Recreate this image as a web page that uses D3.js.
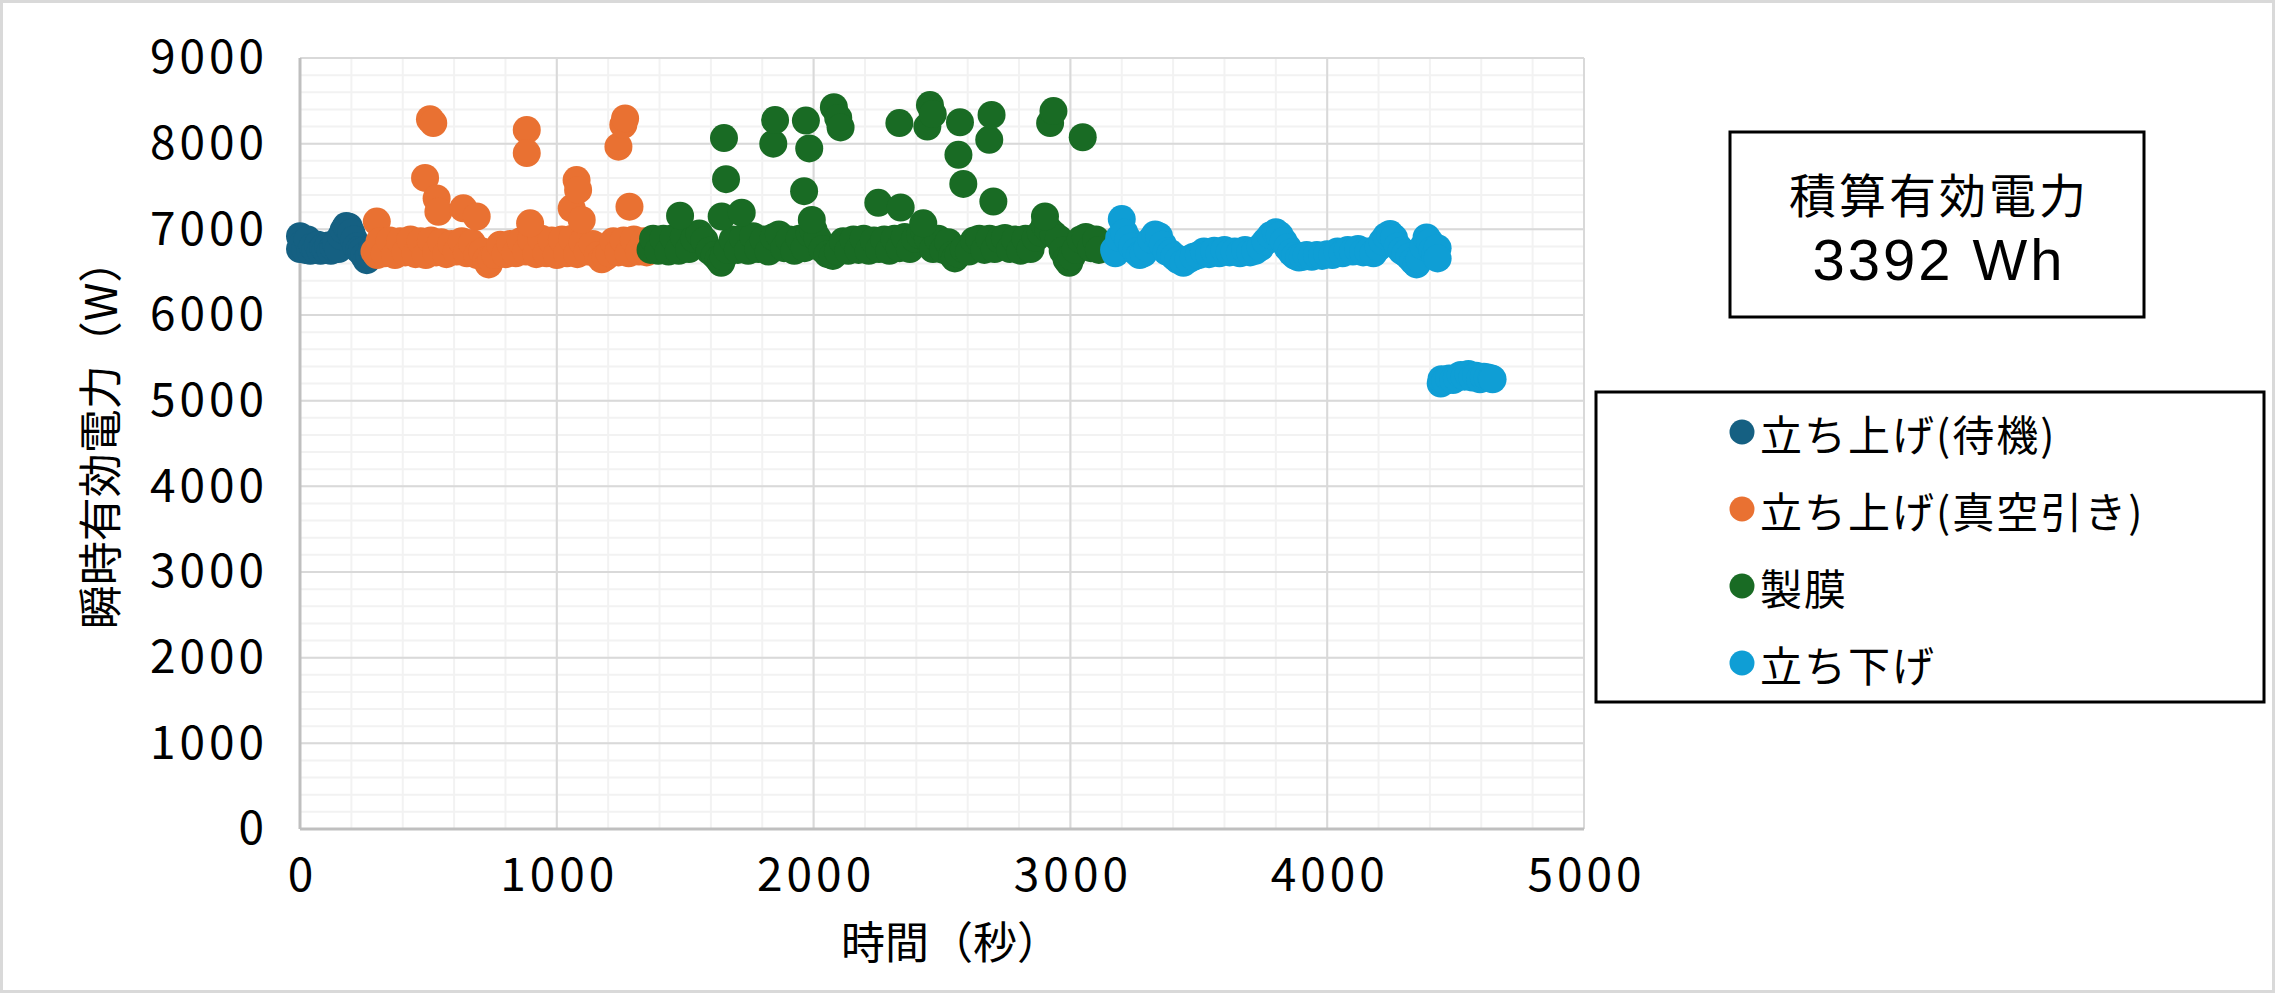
<!DOCTYPE html>
<html>
<head>
<meta charset="utf-8">
<script src="https://cdn.jsdelivr.net/npm/d3@7"></script>
<style>
  html, body { margin: 0; padding: 0; background: #fff; }
  svg text { font-family: "Noto Sans CJK JP", "Noto Sans", sans-serif; fill: #000; }
</style>
</head>
<body>
<div id="chart"></div>
<script>
// Series data: [time (s), instantaneous active power (W)]
var standby = [
  [0,6920],[0,6770],[10,6830],[20,6760],[30,6880],[40,6750],[50,6800],[60,6760],[70,6820],[80,6750],
  [90,6790],[100,6760],[110,6810],[120,6750],[130,6790],[140,6840],[150,6770],[160,6920],[170,6990],
  [180,7040],[190,7030],[200,6960],[210,6880],[220,6800],[230,6760],[240,6740],[250,6690],[260,6640],
  [270,6700],[280,6760]
];

var vacuum = [
  [290,6740],[299,7090],[300,6700],[310,6860],[330,6720],[350,6870],[370,6700],[390,6860],[410,6730],
  [430,6880],[450,6710],[470,6860],[490,6700],[510,6870],[530,6730],[550,6850],[570,6710],[590,6830],
  [610,6740],[630,6860],[650,6720],[670,6840],[690,6700],[710,6740],[725,6640],[735,6590],[745,6650],
  [760,6700],[780,6820],[800,6710],[820,6830],[840,6720],[860,6860],[880,6740],[900,6880],[920,6710],
  [940,6890],[960,6720],[980,6870],[1000,6700],[1020,6880],[1040,6720],[1060,6890],[1080,6710],
  [1100,6850],[1120,6740],[1140,6830],[1160,6700],[1175,6650],[1190,6680],[1205,6720],[1220,6860],
  [1240,6730],[1260,6870],[1280,6720],[1300,6880],[1320,6740],[1340,6860],[1350,6730],
  [487,7600],[506,8285],[519,8240],[532,7360],[539,7205],[636,7245],[688,7150],[883,8160],[883,7890],
  [896,7070],[1058,7245],[1077,7575],[1083,7460],[1097,7110],[1240,7965],[1259,8220],[1266,8295],[1283,7265]
];

var deposition = [
  [1365,6760],[1375,6890],[1395,6750],[1415,6890],[1435,6740],[1455,6900],[1475,6750],[1495,6910],
  [1515,6770],[1535,6890],[1555,6950],[1575,6870],[1595,6750],[1615,6700],[1630,6650],[1640,6610],
  [1650,6680],[1665,6760],[1685,6880],[1705,6760],[1725,6900],[1745,6750],[1765,6920],[1785,6770],
  [1805,6880],[1825,6740],[1845,6910],[1865,6940],[1885,6780],[1905,6880],[1925,6750],[1945,6890],
  [1965,6780],[1985,6950],[2000,6990],[2015,6900],[2035,6770],[2055,6710],[2075,6690],[2095,6740],
  [2115,6860],[2135,6750],[2155,6880],[2175,6760],[2195,6890],[2215,6750],[2235,6870],[2255,6770],
  [2275,6880],[2295,6750],[2315,6890],[2335,6780],[2355,6910],[2375,6770],[2395,6890],[2415,6930],
  [2430,6990],[2445,6900],[2465,6770],[2485,6890],[2505,6760],[2525,6850],[2540,6700],[2550,6660],
  [2565,6710],[2585,6770],[2605,6740],[2625,6870],[2645,6890],[2665,6760],[2685,6890],[2705,6770],
  [2725,6880],[2745,6900],[2765,6770],[2785,6880],[2805,6750],[2825,6890],[2845,6770],[2865,6900],
  [2885,6960],[2900,7050],[2915,7000],[2935,6940],[2955,6890],[2970,6750],[2985,6650],[2995,6610],
  [3005,6680],[3020,6760],[3040,6880],[3060,6910],[3080,6780],[3100,6880],[3111,6760],
  [1480,7160],[1642,7150],[1651,8065],[1659,7585],[1720,7195],[1843,8000],[1850,8275],[1963,7445],
  [1970,8270],[1983,7945],[1993,7110],[2079,8425],[2096,8300],[2105,8190],[2252,7310],[2334,8240],
  [2339,7255],[2427,7070],[2443,8200],[2453,8450],[2464,8345],[2564,7870],[2570,8250],[2583,7530],
  [2684,8045],[2693,8335],[2700,7325],[2901,7150],[2921,8240],[2934,8380],[3048,8075]
];

var rampDown = [
  [3170,6760],[3175,6720],[3190,6900],[3200,7120],[3210,6960],[3225,6880],[3240,6800],[3255,6740],
  [3270,6700],[3285,6720],[3300,6780],[3315,6880],[3330,6940],[3345,6920],[3360,6820],[3375,6740],
  [3390,6720],[3405,6680],[3420,6640],[3440,6610],[3460,6650],[3480,6680],[3500,6700],[3520,6740],
  [3540,6710],[3560,6750],[3580,6720],[3600,6760],[3620,6730],[3640,6740],[3660,6720],[3680,6760],
  [3700,6730],[3720,6750],[3740,6790],[3760,6860],[3780,6930],[3800,6965],[3815,6930],[3830,6860],
  [3845,6790],[3860,6730],[3875,6690],[3890,6670],[3905,6680],[3920,6700],[3940,6680],[3960,6700],
  [3980,6690],[4000,6710],[4020,6700],[4040,6740],[4060,6720],[4080,6760],[4100,6740],[4120,6770],
  [4140,6730],[4160,6740],[4180,6720],[4200,6790],[4215,6860],[4230,6920],[4245,6945],[4260,6900],
  [4275,6800],[4290,6750],[4305,6720],[4320,6680],[4335,6630],[4348,6590],[4360,6650],[4375,6800],
  [4387,6905],[4400,6850],[4410,6760],[4420,6700],[4430,6780],[4430,6660],
  [4442,5200],[4445,5250],[4460,5230],[4475,5260],[4490,5240],[4505,5270],[4520,5300],[4535,5280],
  [4550,5310],[4565,5270],[4580,5290],[4595,5250],[4610,5280],[4625,5270],[4640,5260],[4644,5250]
];

var seriesNames = ["立ち上げ(待機)", "立ち上げ(真空引き)", "製膜", "立ち下げ"];
var seriesColors = ["#156082", "#E97132", "#196B24", "#0F9ED5"];
var seriesData = [standby, vacuum, deposition, rampDown];

var xTicks = [0, 1000, 2000, 3000, 4000, 5000];
var yTicks = [0, 1000, 2000, 3000, 4000, 5000, 6000, 7000, 8000, 9000];
var totalLabel = ["積算有効電力", "3392 Wh"];

// SVG size
var svgWidth = 2275;
var svgHeight = 993;

var margin = { top: 58, left: 300 };
var width = 1284;
var height = 771;

var svg = d3.select("#chart")
  .append("svg")
  .attr("width", svgWidth)
  .attr("height", svgHeight);

// chart area border
svg.append("rect")
  .attr("x", 1.5).attr("y", 1.5)
  .attr("width", svgWidth - 3).attr("height", svgHeight - 3)
  .attr("fill", "#fff")
  .attr("stroke", "#d9d9d9")
  .attr("stroke-width", 3);

var chartGroup = svg.append("g")
  .attr("transform", `translate(${margin.left}, ${margin.top})`);

// scales
var xScale = d3.scaleLinear().domain([0, 5000]).range([0, width]);
var yScale = d3.scaleLinear().domain([0, 9000]).range([height, 0]);

// minor gridlines every 200
var xMinor = d3.range(0, 5001, 200);
var yMinor = d3.range(0, 9001, 200);

chartGroup.append("g").selectAll("line")
  .data(xMinor).join("line")
  .attr("x1", d => xScale(d)).attr("x2", d => xScale(d))
  .attr("y1", 0).attr("y2", height)
  .attr("stroke", "#f2f2f2").attr("stroke-width", 2);

chartGroup.append("g").selectAll("line")
  .data(yMinor).join("line")
  .attr("x1", 0).attr("x2", width)
  .attr("y1", d => yScale(d)).attr("y2", d => yScale(d))
  .attr("stroke", "#f2f2f2").attr("stroke-width", 2);

// major gridlines
chartGroup.append("g").selectAll("line")
  .data(xTicks).join("line")
  .attr("x1", d => xScale(d)).attr("x2", d => xScale(d))
  .attr("y1", 0).attr("y2", height)
  .attr("stroke", "#d9d9d9").attr("stroke-width", 2);

chartGroup.append("g").selectAll("line")
  .data(yTicks).join("line")
  .attr("x1", 0).attr("x2", width)
  .attr("y1", d => yScale(d)).attr("y2", d => yScale(d))
  .attr("stroke", "#d9d9d9").attr("stroke-width", 2);

// axis lines
chartGroup.append("line")
  .attr("x1", 0).attr("x2", 0).attr("y1", 0).attr("y2", height)
  .attr("stroke", "#bfbfbf").attr("stroke-width", 3);
chartGroup.append("line")
  .attr("x1", 0).attr("x2", width).attr("y1", height).attr("y2", height)
  .attr("stroke", "#bfbfbf").attr("stroke-width", 3);

// tick labels
var leftAxis = d3.axisLeft(yScale).tickValues(yTicks).tickFormat(d3.format("d"))
  .tickSize(0).tickPadding(32);
var bottomAxis = d3.axisBottom(xScale).tickValues(xTicks).tickFormat(d3.format("d"))
  .tickSize(0).tickPadding(29);

var yAxisG = chartGroup.append("g").call(leftAxis);
yAxisG.select(".domain").remove();
yAxisG.selectAll("text").style("font-size", "46px").style("letter-spacing", "4px");

var xAxisG = chartGroup.append("g")
  .attr("transform", `translate(0, ${height})`)
  .call(bottomAxis);
xAxisG.select(".domain").remove();
xAxisG.selectAll("text").style("font-size", "46px").style("letter-spacing", "4px").attr("dx", 2);

// points
seriesData.forEach(function(series, i) {
  chartGroup.append("g").selectAll("circle")
    .data(series).join("circle")
    .attr("cx", d => xScale(d[0]))
    .attr("cy", d => yScale(d[1]))
    .attr("r", 14)
    .attr("fill", seriesColors[i]);
});

// axis titles
svg.append("text")
  .attr("x", 951).attr("y", 940)
  .attr("text-anchor", "middle")
  .attr("dominant-baseline", "central")
  .style("font-size", "44px")
  .text("時間（秒）");

svg.append("text")
  .attr("transform", "translate(98, 434) rotate(-90)")
  .attr("text-anchor", "middle")
  .attr("dominant-baseline", "central")
  .style("font-size", "44px")
  .text("瞬時有効電力（W）");

// total energy box
svg.append("rect")
  .attr("x", 1730).attr("y", 132)
  .attr("width", 414).attr("height", 185)
  .attr("fill", "#fff").attr("stroke", "#000").attr("stroke-width", 3);

svg.append("text")
  .attr("x", 1939).attr("y", 192)
  .attr("text-anchor", "middle")
  .attr("dominant-baseline", "central")
  .style("font-size", "47px")
  .style("letter-spacing", "3px")
  .text(totalLabel[0]);

svg.append("text")
  .attr("x", 1939).attr("y", 259)
  .attr("text-anchor", "middle")
  .attr("dominant-baseline", "central")
  .style("font-family", "'Liberation Sans', sans-serif")
  .style("font-size", "58px")
  .style("letter-spacing", "3px")
  .text(totalLabel[1]);

// legend
var legend = svg.append("g");
legend.append("rect")
  .attr("x", 1596).attr("y", 392)
  .attr("width", 668).attr("height", 310)
  .attr("fill", "#fff").attr("stroke", "#000").attr("stroke-width", 3);

var legendRows = legend.selectAll(".legendRow")
  .data(seriesNames).join("g")
  .attr("class", "legendRow")
  .attr("transform", (d, i) => `translate(1742, ${432 + i * 77})`);

legendRows.append("circle")
  .attr("r", 12.5)
  .attr("fill", (d, i) => seriesColors[i]);

legendRows.append("text")
  .attr("x", 18)
  .attr("dominant-baseline", "central")
  .style("font-size", "42px")
  .style("letter-spacing", "2px")
  .text(d => d);
</script>
</body>
</html>
